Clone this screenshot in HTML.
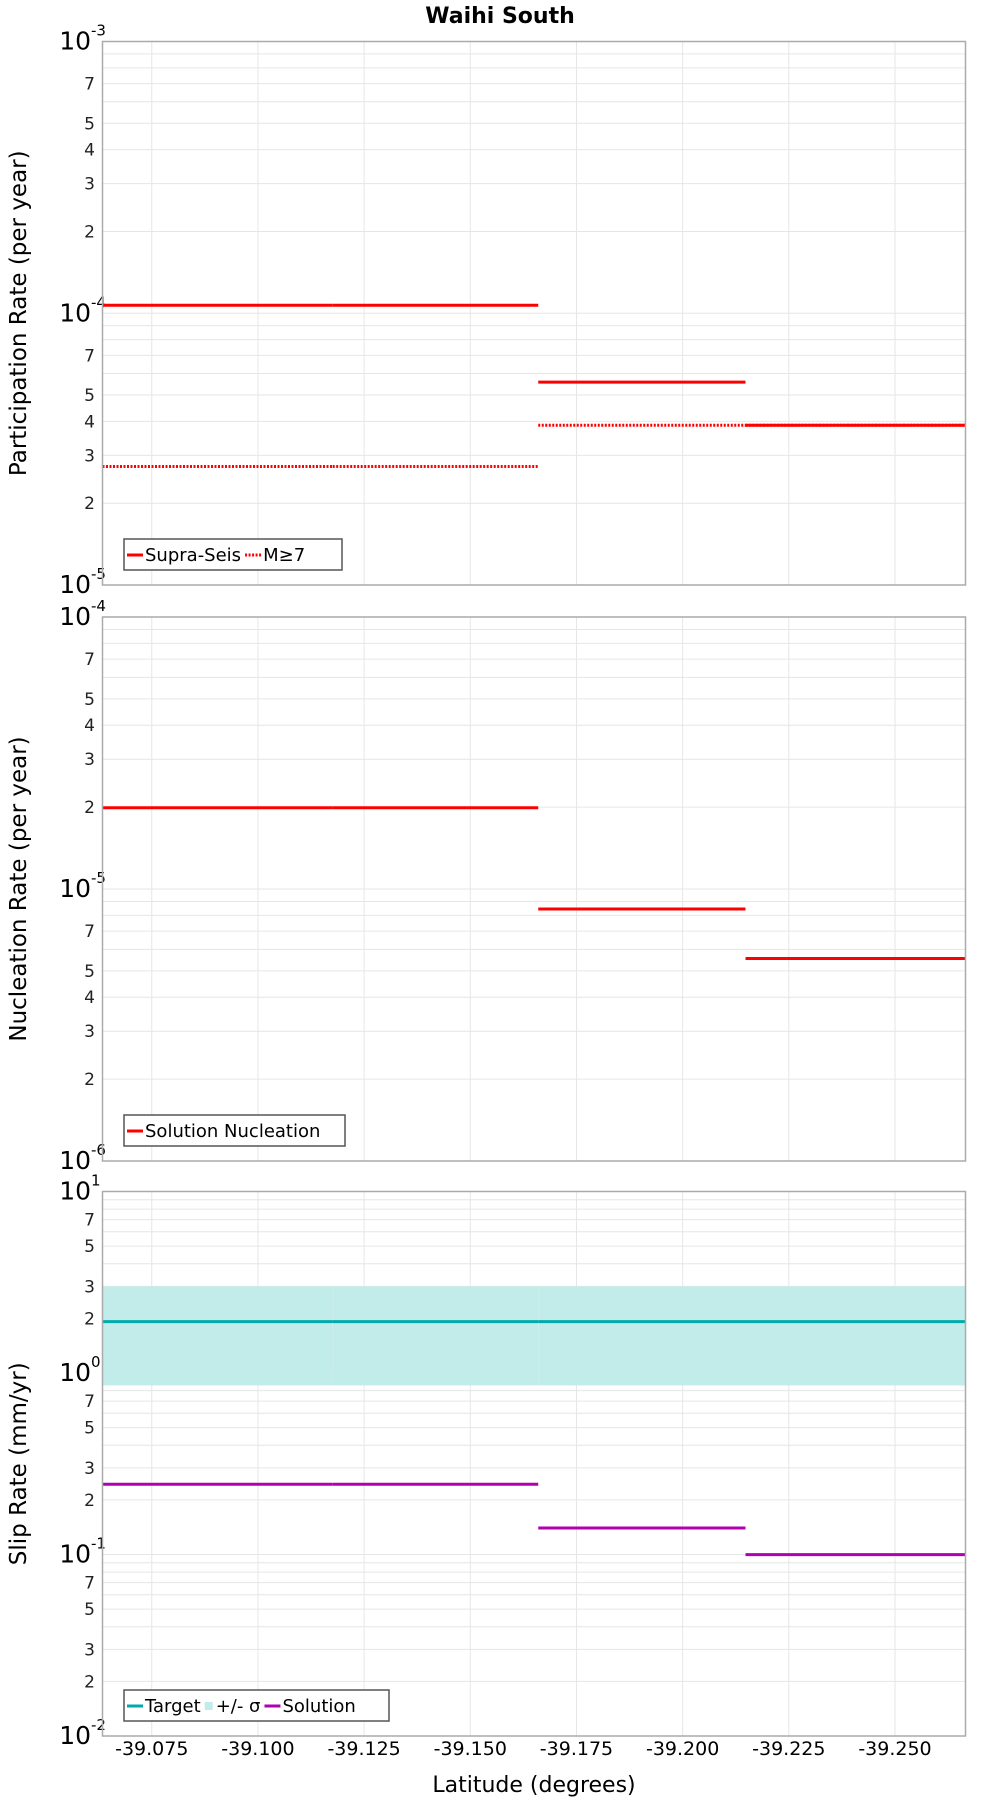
<!DOCTYPE html>
<html><head><meta charset="utf-8"><style>
body{margin:0;background:#fff;}
svg{display:block;font-family:"DejaVu Sans","Liberation Sans",sans-serif;}
</style></head><body>
<svg id="chart" width="1000" height="1800" viewBox="0 0 1000 1800" xmlns="http://www.w3.org/2000/svg">
<text x="500" y="23" text-anchor="middle" font-size="22" font-weight="bold">Waihi South</text>
<text x="534" y="1792" text-anchor="middle" font-size="22">Latitude (degrees)</text>
</svg>
<script>
// shared x data
const sectionBounds = [-39.0634, -39.1176, -39.166, -39.2148, -39.2666];
const xTicks = [-39.075, -39.100, -39.125, -39.150, -39.175, -39.200, -39.225, -39.250];
const xTickLabels = ["-39.075","-39.100","-39.125","-39.150","-39.175","-39.200","-39.225","-39.250"];
// panel 1: participation
const supraSeis = [1.07e-4, 1.07e-4, 5.58e-5, 3.87e-5];
const m7 = [2.73e-5, 2.73e-5, 3.87e-5, 3.87e-5];
// panel 2: nucleation
const solutionNucleation = [1.99e-5, 1.99e-5, 8.44e-6, 5.55e-6];
// panel 3: slip rate
const targetSlip = [1.92, 1.92, 1.92, 1.92];
const sigmaLow = [0.854, 0.854, 0.854, 0.854];
const sigmaHigh = [3.0, 3.0, 3.0, 3.0];
const solutionSlip = [0.244, 0.244, 0.140, 0.0998];

const NS = "http://www.w3.org/2000/svg";
const svg = document.getElementById('chart');
const L = 102.5, R = 965.5;
const X0 = -39.0634, X1 = -39.2666;
function xScale(v){ return L + (v - X0) / (X1 - X0) * (R - L); }
function mk(tag, attrs, parent){ const e = document.createElementNS(NS, tag); for (const k in attrs) e.setAttribute(k, attrs[k]); (parent||svg).appendChild(e); return e; }

const panels = [
 {name:'participation', top:41.5, bot:585, lo:-5, hi:-3, minorLabels:[2,3,4,5,7], title:'Participation Rate (per year)'},
 {name:'nucleation', top:617, bot:1161, lo:-6, hi:-4, minorLabels:[2,3,4,5,7], title:'Nucleation Rate (per year)'},
 {name:'slip-rate', top:1191.5, bot:1736, lo:-2, hi:1, minorLabels:[2,3,5,7], title:'Slip Rate (mm/yr)'}
];
function yScaleFor(p){ return v => p.bot - (Math.log10(v) - p.lo) / (p.hi - p.lo) * (p.bot - p.top); }

panels.forEach((p, pi) => {
  const g = mk('g', {});
  
  
  const y = yScaleFor(p);
  for (let d = p.lo; d < p.hi; d++) {
    for (let m = 1; m <= 9; m++) {
      const v = m * Math.pow(10, d);
      if (m === 1 && d === p.lo) continue;
      const gl = mk('line', {x1:L, x2:R, y1:y(v), y2:y(v), stroke:'#e6e6e6', 'stroke-width':1}, g);
      
      
      if (m > 1 && p.minorLabels.indexOf(m) >= 0) {
        const t = mk('text', {x:95, y:y(v)+6, 'text-anchor':'end', 'font-size':17, fill:'#222'}, g);
        
        
        t.textContent = m;
      }
    }
  }
  for (let d = p.lo; d <= p.hi; d++) {
    const t = mk('text', {x:91, y:y(Math.pow(10,d))+8, 'text-anchor':'end', 'font-size':25, fill:'#000'}, g);
    
    
    t.textContent = '10';
    const s = mk('text', {x:91, y:y(Math.pow(10,d))-6, 'text-anchor':'start', 'font-size':15, fill:'#000'}, g);
    
    
    s.textContent = String(d);
  }
  xTicks.forEach((v, i) => {
    const gl = mk('line', {x1:xScale(v), x2:xScale(v), y1:p.top, y2:p.bot, stroke:'#e6e6e6', 'stroke-width':1}, g);
    
    
    if (pi === 2) {
      const t = mk('text', {x:xScale(v), y:1755, 'text-anchor':'middle', 'font-size':19, fill:'#000'}, g);
      
      
      t.textContent = xTickLabels[i];
    }
  });
  const yt = mk('text', {x:0, y:0, 'text-anchor':'middle', 'font-size':23, transform:'translate(26,'+((p.top+p.bot)/2)+') rotate(-90)'}, g);
  
  
  yt.textContent = p.title;
  p.g = g; p.y = y;
});

function steps(p, vals, attrs, name){
  vals.forEach((v, i) => {
    const ln = mk('line', Object.assign({x1:xScale(sectionBounds[i]), x2:xScale(sectionBounds[i+1]), y1:p.y(v), y2:p.y(v)}, attrs), p.g);
    
    
  });
}
sigmaLow.forEach((v, i) => {
  const p = panels[2];
  const r = mk('rect', {x:xScale(sectionBounds[i]), width:xScale(sectionBounds[i+1])-xScale(sectionBounds[i]), y:p.y(sigmaHigh[i]), height:p.y(v)-p.y(sigmaHigh[i]), fill:'#c2ecea'}, p.g);
  
  
});
steps(panels[0], m7, {stroke:'#ff0000','stroke-width':3,'stroke-dasharray':'2,1.5'}, 'm7-segment');
steps(panels[0], supraSeis, {stroke:'#ff0000','stroke-width':3}, 'supra-seis-segment');
steps(panels[1], solutionNucleation, {stroke:'#ff0000','stroke-width':3}, 'nucleation-segment');
steps(panels[2], targetSlip, {stroke:'#00aaaa','stroke-width':3}, 'target-segment');
steps(panels[2], solutionSlip, {stroke:'#b000b0','stroke-width':3}, 'solution-segment');

const legends = [
 {items:[['line','#ff0000','Supra-Seis',''],['line','#ff0000','M≥7','2,1.5']], w:218},
 {items:[['line','#ff0000','Solution Nucleation','']], w:221},
 {items:[['line','#00aaaa','Target',''],['rect','#c2ecea','+/- σ',''],['line','#b000b0','Solution','']], w:265}
];
panels.forEach((p, pi) => {
  const f = mk('rect', {x:L, y:p.top, width:R-L, height:p.bot-p.top, fill:'none', stroke:'#aaa', 'stroke-width':1.5}, p.g);
  
  
  const lg = legends[pi];
  const lgEl = mk('g', {}, p.g);
  
  
  const by = p.bot - 46;
  mk('rect', {x:124, y:by, width:lg.w, height:31, fill:'#fff', stroke:'#555', 'stroke-width':1.5}, lgEl);
  let cx = 127;
  lg.items.forEach(it => {
    const e = mk('g', {}, lgEl);
    
    
    if (it[0] === 'line') {
      const a = {x1:cx, x2:cx+16, y1:by+16, y2:by+16, stroke:it[1], 'stroke-width':3};
      if (it[3]) a['stroke-dasharray'] = it[3];
      mk('line', a, e);
      cx += 18;
    } else {
      mk('rect', {x:cx, y:by+12, width:8, height:8, fill:it[1]}, e);
      cx += 11;
    }
    const t = mk('text', {x:cx, y:by+22, 'font-size':18, fill:'#000'}, e);
    t.textContent = it[2];
    cx += t.getComputedTextLength() + 4;
  });
});
</script>
</body></html>
